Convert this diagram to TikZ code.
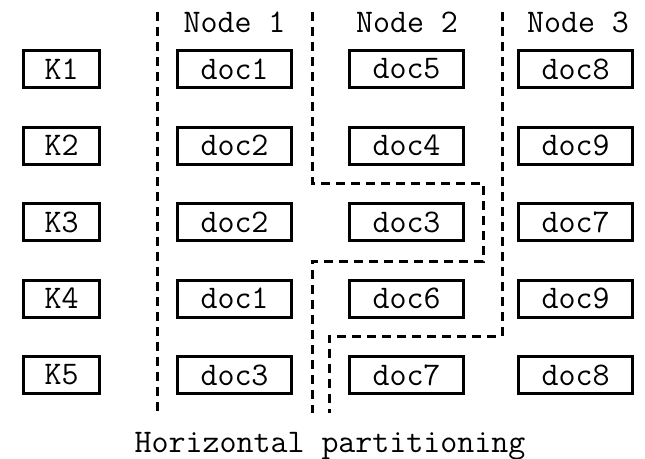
\documentclass[tikz,border=0pt]{standalone}
\usepackage{fontspec}
\usetikzlibrary{positioning}

\begin{document}
\begin{tikzpicture}[
    x=1pt,y=-1pt,
    node distance=36.5pt,
    key/.style={rectangle,draw=black,line width=3pt,minimum width=76pt,minimum height=37pt,inner sep=0pt,font=\ttfamily\fontsize{33}{35}\selectfont},
    doc/.style={key,minimum width=114pt},
    head/.style={font=\ttfamily\fontsize{33}{35}\selectfont},
    part/.style={line width=3pt,dash pattern=on 9pt off 6pt}
    ]
    \useasboundingbox (0,0) rectangle (645,458);
    \node (n1) [head] at (234.5,22) {Node 1};
    \node (n2) [head] at (407,22) {Node 2};
    \node (n3) [head] at (578,22) {Node 3};
    \node (k1) [key] at (61.5,69) {K1};
    \node (a1) [doc,right=75pt of k1] {doc1};
    \node (b1) [doc,right=55pt of a1] {doc5};
    \node (c1) [doc,right=52pt of b1] {doc8};
    \node (k2) [key,below=of k1] {K2};
    \node (a2) [doc,below=of a1] {doc2};
    \node (b2) [doc,below=of b1] {doc4};
    \node (c2) [doc,below=of c1] {doc9};
    \node (k3) [key,below=of k2] {K3};
    \node (a3) [doc,below=of a2] {doc2};
    \node (b3) [doc,below=of b2] {doc3};
    \node (c3) [doc,below=of c2] {doc7};
    \node (k4) [key,below=of k3] {K4};
    \node (a4) [doc,below=of a3] {doc1};
    \node (b4) [doc,below=of b3] {doc6};
    \node (c4) [doc,below=of c3] {doc9};
    \node (k5) [key,below=of k4] {K5};
    \node (a5) [doc,below=of a4] {doc3};
    \node (b5) [doc,below=of b4] {doc7};
    \node (c5) [doc,below=of c4] {doc8};
    \draw[part] (157,12) -- (157,413);
    \draw[part] (312,12) -- (312,183) -- (483,183) -- (483,261) -- (312,261) -- (312,413);
    \draw[part] (502,12) -- (502,336) -- (329,336) -- (329,413);
    \node (cap) [head,anchor=base] at (330,452) {Horizontal partitioning};
\end{tikzpicture}
\end{document}
